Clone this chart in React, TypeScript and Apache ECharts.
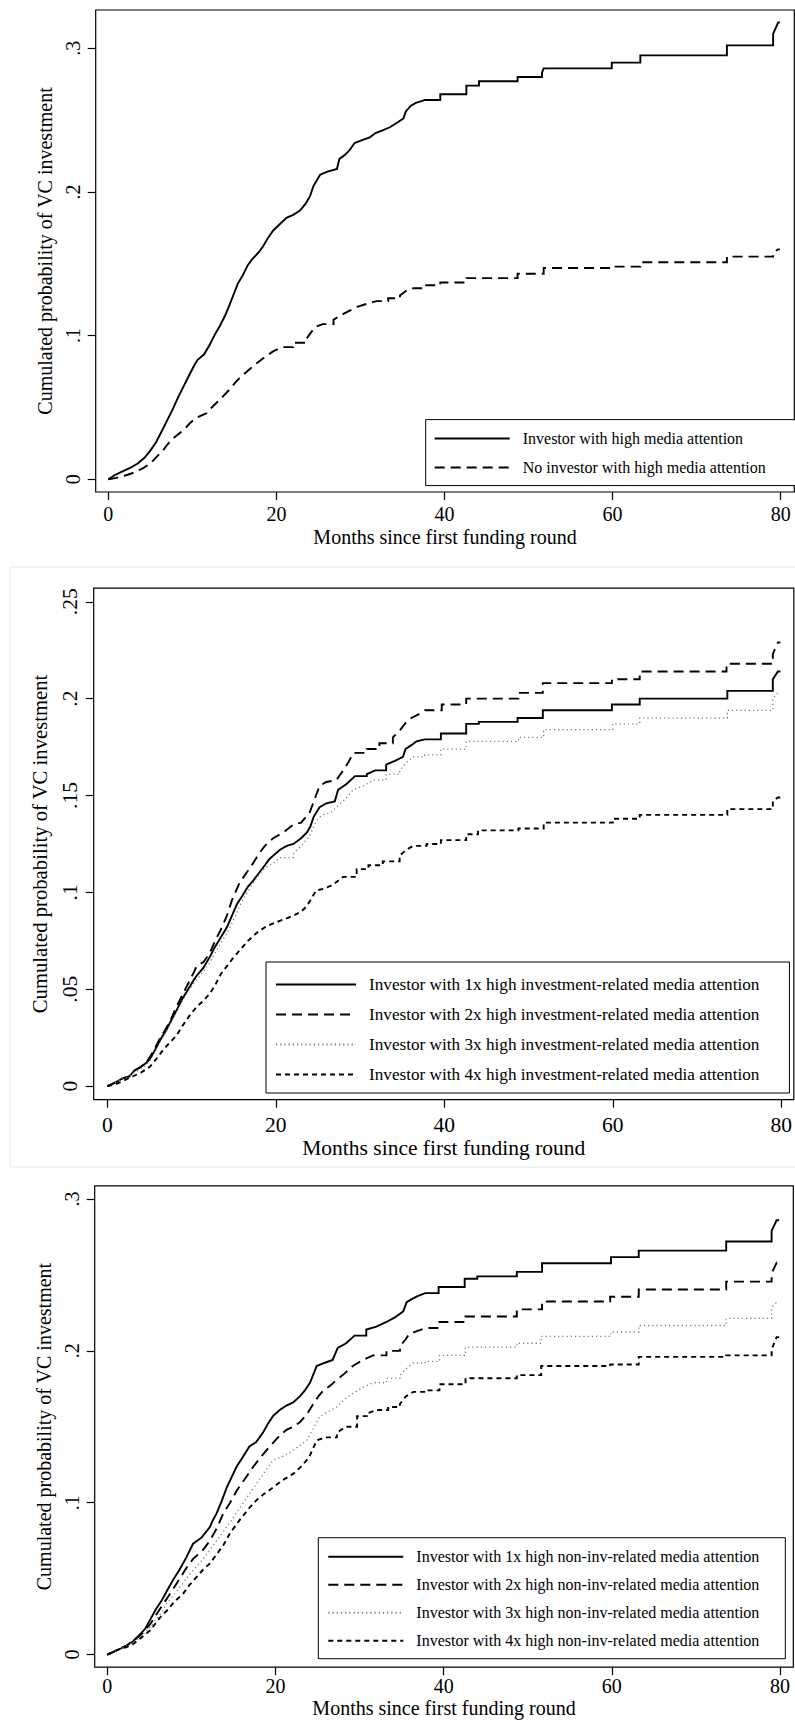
import React, { useEffect, useRef } from "react";
import * as echarts from "echarts";

const FONT = '"Liberation Serif", "Times New Roman", Times, serif';

const xTicks = [0, 20, 40, 60, 80];
const yTicksP1 = [0, 0.1, 0.2, 0.3];
const yTicksP2 = [0, 0.05, 0.1, 0.15, 0.2, 0.25];
const yTicksP3 = [0, 0.1, 0.2, 0.3];

const xTitle = "Months since first funding round";
const yTitle = "Cumulated probability of VC investment";

const p1Names = ["Investor with high media attention", "No investor with high media attention"];
const p2Names = [
  "Investor with 1x high investment-related media attention",
  "Investor with 2x high investment-related media attention",
  "Investor with 3x high investment-related media attention",
  "Investor with 4x high investment-related media attention",
];
const p3Names = [
  "Investor with 1x high non-inv-related media attention",
  "Investor with 2x high non-inv-related media attention",
  "Investor with 3x high non-inv-related media attention",
  "Investor with 4x high non-inv-related media attention",
];

// Panel 1: [month, cumulated probability]
const p1High = [[0,0],[0.8,0.003],[1.5,0.005],[2.6,0.008],[3.5,0.011],[4.3,0.015],[5.0,0.02],[5.7,0.026],[6.4,0.034],[7.0,0.041],[7.6,0.048],[8.3,0.057],[8.9,0.064],[9.5,0.071],[10.2,0.079],[10.6,0.083],[11.4,0.087],[12.1,0.094],[12.7,0.101],[13.3,0.107],[13.9,0.114],[14.4,0.121],[15.0,0.13],[15.4,0.136],[16.0,0.142],[16.6,0.149],[17.1,0.153],[17.9,0.158],[18.4,0.162],[19.0,0.168],[19.6,0.173],[20.3,0.177],[21.2,0.182],[22.0,0.184],[22.8,0.187],[23.5,0.192],[24.0,0.197],[24.4,0.204],[24.8,0.208],[25.2,0.212],[26.0,0.214],[27.2,0.216],[27.5,0.223],[28.2,0.226],[28.7,0.229],[29.3,0.234],[30.2,0.236],[31.1,0.238],[31.8,0.241],[32.7,0.243],[33.5,0.245],[34.3,0.248],[35.1,0.251],[35.4,0.256],[36.0,0.26],[36.6,0.262],[37.7,0.264],[39.5,0.268],[42.6,0.274],[44.1,0.277],[48.7,0.28],[51.6,0.283],[51.8,0.286],[59.9,0.29],[63.3,0.295],[73.6,0.302],[79.1,0.31],[79.7,0.318],[79.9,0.318]];
const p1None = [[0,0],[1,0.001],[2.2,0.003],[3.2,0.005],[4.2,0.008],[5.0,0.011],[5.8,0.016],[6.5,0.02],[7.0,0.024],[7.8,0.029],[8.9,0.034],[9.7,0.039],[10.5,0.043],[11.7,0.046],[12.3,0.05],[13.0,0.054],[13.7,0.058],[14.5,0.063],[15.2,0.068],[15.9,0.072],[16.7,0.076],[17.7,0.081],[18.6,0.085],[19.6,0.089],[20.7,0.092],[22.0,0.095],[23.6,0.098],[24.6,0.106],[25.5,0.108],[26.8,0.111],[27.6,0.114],[28.6,0.117],[29.6,0.12],[30.7,0.122],[31.9,0.124],[33.3,0.126],[34.7,0.128],[35.4,0.131],[36.3,0.133],[37.7,0.135],[39.5,0.137],[42.6,0.14],[48.7,0.143],[51.8,0.147],[59.9,0.148],[63.3,0.151],[73.6,0.155],[79.1,0.158],[79.7,0.16],[79.9,0.16]];

// Panel 2
const p2One = [[0,0],[1,0.002],[1.8,0.004],[2.6,0.005],[3.2,0.008],[4.0,0.01],[4.6,0.012],[5.05,0.014],[5.7,0.019],[6.3,0.024],[7.0,0.029],[7.6,0.034],[8.2,0.039],[8.9,0.045],[9.6,0.05],[10.3,0.055],[10.6,0.057],[11.4,0.061],[12.2,0.067],[12.8,0.072],[13.5,0.077],[14.2,0.082],[14.8,0.088],[15.4,0.094],[16.0,0.098],[16.7,0.103],[17.3,0.106],[18.0,0.11],[18.7,0.114],[19.2,0.117],[19.7,0.119],[20.5,0.122],[21.3,0.124],[22.1,0.125],[23.0,0.128],[23.7,0.131],[24.1,0.134],[24.5,0.139],[25.2,0.144],[26.0,0.146],[27.0,0.147],[27.4,0.153],[28.4,0.156],[29.4,0.16],[30.8,0.161],[31.8,0.163],[33.1,0.166],[34.2,0.168],[35.1,0.17],[35.4,0.174],[36.1,0.176],[36.7,0.178],[37.7,0.179],[39.6,0.182],[42.6,0.187],[44.1,0.188],[48.7,0.19],[51.7,0.194],[59.9,0.197],[63.2,0.2],[73.6,0.204],[79.0,0.21],[79.6,0.214],[79.9,0.214]];
const p2Two = [[0,0],[1,0.002],[1.8,0.004],[2.6,0.005],[3.2,0.008],[4.0,0.01],[4.6,0.012],[5.05,0.015],[5.7,0.02],[6.3,0.025],[7.0,0.03],[7.6,0.035],[8.2,0.041],[8.9,0.047],[9.6,0.053],[10.3,0.059],[10.6,0.062],[11.4,0.064],[12.2,0.069],[12.8,0.075],[13.5,0.081],[14.2,0.088],[14.8,0.096],[15.7,0.105],[16.5,0.11],[17.3,0.115],[18.0,0.12],[18.7,0.124],[19.7,0.128],[20.9,0.131],[22.1,0.135],[23.0,0.136],[24.0,0.141],[24.6,0.148],[25.2,0.155],[26.0,0.157],[27.2,0.158],[28.0,0.163],[28.6,0.167],[29.2,0.172],[30.8,0.174],[32.3,0.177],[33.9,0.18],[34.8,0.184],[35.5,0.188],[36.1,0.19],[37.0,0.192],[37.7,0.194],[39.7,0.197],[42.6,0.2],[48.8,0.203],[51.7,0.208],[59.9,0.21],[63.2,0.214],[73.5,0.218],[79.0,0.223],[79.6,0.229],[79.9,0.229]];
const p2Three = [[0,0],[1,0.002],[1.8,0.004],[2.6,0.005],[3.2,0.007],[4.0,0.009],[4.6,0.011],[5.05,0.013],[5.7,0.018],[6.3,0.023],[7.0,0.028],[7.6,0.033],[8.2,0.038],[8.9,0.044],[9.6,0.049],[10.6,0.055],[11.4,0.059],[12.2,0.064],[12.8,0.069],[13.5,0.074],[14.2,0.079],[14.9,0.085],[15.7,0.093],[16.5,0.099],[17.3,0.105],[18.0,0.109],[18.8,0.113],[19.7,0.115],[20.5,0.118],[22.1,0.12],[23.0,0.124],[24.0,0.129],[24.8,0.137],[25.5,0.14],[26.5,0.141],[27.2,0.144],[28.2,0.148],[29.2,0.153],[30.4,0.155],[31.6,0.158],[33.1,0.161],[34.7,0.163],[35.5,0.167],[36.3,0.17],[37.7,0.171],[39.6,0.174],[42.6,0.178],[48.8,0.18],[51.8,0.184],[60.0,0.187],[63.2,0.19],[73.6,0.194],[79.0,0.2],[79.6,0.203],[79.9,0.203]];
const p2Four = [[0,0],[1,0.001],[2,0.003],[3,0.005],[4,0.007],[5.05,0.01],[5.8,0.014],[6.5,0.018],[7.3,0.022],[8.2,0.026],[8.9,0.031],[9.7,0.036],[10.6,0.041],[11.4,0.044],[12.2,0.048],[12.9,0.053],[13.5,0.058],[14.2,0.062],[14.9,0.066],[15.7,0.07],[16.7,0.075],[17.7,0.079],[18.7,0.082],[19.7,0.084],[20.9,0.086],[22.1,0.088],[23.0,0.09],[23.7,0.093],[24.8,0.101],[25.8,0.102],[26.8,0.104],[28.0,0.108],[29.6,0.112],[31.0,0.114],[32.7,0.116],[34.7,0.119],[35.5,0.122],[36.3,0.124],[37.9,0.125],[39.6,0.127],[42.6,0.13],[44.0,0.132],[48.8,0.133],[51.8,0.136],[60.0,0.138],[63.2,0.14],[73.6,0.143],[79.0,0.147],[79.6,0.149],[79.9,0.149]];

// Panel 3
const p3One = [[0,0],[0.8,0.002],[1.6,0.004],[2.3,0.006],[3.1,0.009],[4.0,0.014],[4.5,0.017],[5.1,0.023],[5.8,0.03],[6.5,0.036],[7.1,0.042],[7.8,0.049],[8.6,0.056],[9.4,0.064],[10.2,0.073],[11.2,0.077],[12.2,0.084],[12.6,0.089],[13.0,0.093],[13.6,0.101],[14.2,0.11],[14.8,0.117],[15.4,0.124],[16.1,0.13],[16.9,0.137],[17.7,0.14],[18.5,0.146],[19.1,0.152],[19.7,0.157],[20.5,0.161],[21.3,0.164],[22.1,0.166],[22.9,0.17],[23.5,0.174],[24.1,0.179],[24.9,0.19],[25.8,0.192],[26.8,0.194],[27.4,0.202],[28.4,0.205],[29.4,0.21],[30.8,0.214],[32.0,0.216],[33.2,0.219],[34.2,0.222],[35.2,0.226],[35.6,0.232],[36.2,0.234],[36.9,0.236],[37.8,0.238],[39.4,0.242],[42.5,0.2475],[44.0,0.249],[48.7,0.252],[51.7,0.2577],[59.9,0.2617],[63.2,0.266],[73.6,0.272],[79.0,0.279],[79.6,0.286],[79.9,0.286]];
const p3Two = [[0,0],[0.8,0.002],[1.6,0.004],[2.3,0.006],[3.1,0.009],[4.0,0.013],[5.1,0.02],[5.8,0.026],[6.5,0.032],[7.1,0.037],[7.8,0.043],[8.6,0.05],[9.4,0.057],[10.2,0.063],[10.6,0.065],[11.4,0.069],[12.2,0.075],[13.0,0.083],[13.8,0.093],[14.6,0.1],[15.4,0.108],[16.4,0.116],[17.4,0.124],[18.4,0.131],[19.3,0.137],[20.3,0.143],[21.3,0.148],[22.1,0.15],[22.9,0.153],[23.7,0.158],[24.5,0.165],[25.1,0.17],[25.7,0.174],[26.5,0.177],[27.3,0.181],[28.2,0.185],[29.2,0.19],[30.4,0.194],[31.6,0.197],[33.2,0.2],[34.8,0.203],[35.4,0.207],[35.9,0.211],[36.8,0.213],[37.9,0.215],[39.5,0.219],[42.6,0.2226],[48.7,0.2273],[51.7,0.2325],[59.8,0.2356],[63.2,0.2404],[73.6,0.2456],[79.0,0.251],[79.6,0.258],[79.9,0.258]];
const p3Three = [[0,0],[0.8,0.002],[1.6,0.004],[2.3,0.006],[3.1,0.008],[4.0,0.012],[5.1,0.018],[5.8,0.023],[6.5,0.028],[7.1,0.034],[8.0,0.04],[9.0,0.047],[9.8,0.053],[10.6,0.058],[11.4,0.063],[12.2,0.069],[13.0,0.075],[13.8,0.081],[14.6,0.087],[15.8,0.097],[16.8,0.105],[17.8,0.113],[18.7,0.12],[19.7,0.128],[20.7,0.13],[21.7,0.133],[22.7,0.137],[23.7,0.141],[24.5,0.149],[25.3,0.157],[26.3,0.16],[27.3,0.163],[28.2,0.168],[29.2,0.172],[30.4,0.176],[31.6,0.179],[33.2,0.182],[34.8,0.184],[35.5,0.188],[36.4,0.192],[37.8,0.193],[39.5,0.197],[42.6,0.2025],[48.7,0.205],[51.6,0.2095],[59.9,0.2124],[63.2,0.2167],[73.6,0.2214],[79.0,0.2285],[79.6,0.232],[79.9,0.232]];
const p3Four = [[0,0],[0.8,0.002],[1.6,0.004],[2.3,0.005],[3.1,0.007],[4.0,0.011],[5.1,0.016],[5.8,0.021],[6.5,0.026],[7.1,0.029],[8.0,0.035],[9.0,0.04],[9.8,0.046],[10.6,0.051],[11.4,0.056],[12.2,0.06],[13.0,0.066],[13.8,0.072],[14.6,0.08],[15.8,0.089],[16.8,0.096],[17.8,0.102],[18.7,0.106],[19.7,0.11],[20.9,0.115],[22.1,0.119],[23.1,0.124],[24.0,0.13],[24.9,0.141],[25.9,0.143],[27.3,0.146],[28.3,0.15],[29.7,0.157],[31.0,0.159],[32.0,0.161],[33.4,0.163],[34.8,0.165],[35.5,0.17],[36.4,0.173],[37.8,0.174],[39.5,0.178],[42.6,0.182],[48.7,0.184],[51.6,0.19],[59.8,0.191],[63.2,0.196],[73.6,0.197],[79.0,0.201],[79.6,0.209],[79.9,0.209]];

const SOLID = { color: "#000", width: 1.9, type: "solid" as any };
const LONGDASH = { color: "#000", width: 1.9, type: [10, 6] as any };
const DOTTED = { color: "#7a7a7a", width: 1.3, type: [1.2, 3] as any };
const SHORTDASH = { color: "#000", width: 1.9, type: [5, 4] as any };

const yFmt = (v: number) => (v === 0 ? "0" : String(v).replace(/^0/, ""));

// Kaplan-Meier style: dense early events drawn as a path through the read points,
// sparse later events drawn as horizontal-then-vertical steps.
function kmPath(pts: number[][]) {
  const out: number[][] = [pts[0]];
  for (let i = 1; i < pts.length; i++) {
    const [t, y] = pts[i];
    const [tp, yp] = pts[i - 1];
    if (t - tp > 1.3) out.push([t, yp]);
    out.push([t, y]);
  }
  return out;
}

function mkSeries(name: string, data: number[][], idx: number, ls: any) {
  return {
    name,
    type: "line",
    xAxisIndex: idx,
    yAxisIndex: idx,
    data: kmPath(data),
    symbol: "none",
    showSymbol: false,
    color: ls.color,
    lineStyle: { ...ls, cap: "butt", join: "miter" },
    silent: true,
  };
}

function mkX(idx: number, min: number, max: number, fs: number, margin: number, nameGap: number, nameFs: number) {
  return {
    type: "value",
    gridIndex: idx,
    min,
    max,
    axisLine: { show: false, onZero: false },
    axisTick: { show: true, inside: false, length: 8, customValues: xTicks, lineStyle: { color: "#000", width: 1.2 } },
    axisLabel: { customValues: xTicks, margin, fontSize: fs, fontFamily: FONT, color: "#000" },
    splitLine: { show: false },
    name: xTitle,
    nameLocation: "middle",
    nameGap,
    nameTextStyle: { fontFamily: FONT, fontSize: nameFs, color: "#000" },
  };
}

function mkY(idx: number, min: number, max: number, ticks: number[], fs: number, margin: number, nameGap: number, nameFs: number) {
  return {
    type: "value",
    gridIndex: idx,
    min,
    max,
    axisLine: { show: false, onZero: false },
    axisTick: { show: true, inside: false, length: 8, customValues: ticks, lineStyle: { color: "#000", width: 1.2 } },
    axisLabel: { customValues: ticks, formatter: yFmt, rotate: 90, margin, fontSize: fs, fontFamily: FONT, color: "#000" },
    splitLine: { show: false },
    name: yTitle,
    nameLocation: "middle",
    nameGap,
    nameRotate: 90,
    nameTextStyle: { fontFamily: FONT, fontSize: nameFs, color: "#000" },
  };
}

function mkLegend(data: string[], left: number, top: number, itemWidth: number, itemGap: number, fs: number, padding: number[], textPad: number) {
  return {
    data,
    left,
    top,
    orient: "vertical",
    itemWidth,
    itemHeight: 12,
    itemGap,
    padding,
    borderColor: "#000",
    borderWidth: 1,
    backgroundColor: "#fff",
    selectedMode: false,
    itemStyle: { opacity: 0, borderWidth: 0 },
    textStyle: { fontFamily: FONT, fontSize: fs, color: "#000", padding: [0, 0, 0, textPad] },
  };
}

export default function App() {
  const ref = useRef<HTMLDivElement>(null);
  useEffect(() => {
    document.body.style.margin = "0";
    const chart = echarts.init(ref.current as HTMLDivElement, null, { renderer: "svg" });
    const option: any = {
      animation: false,
      backgroundColor: "#fff",
      grid: [
        { left: 95.7, top: 10, width: 698.6, height: 482, show: true, borderColor: "#000", borderWidth: 1.2 },
        { left: 93.7, top: 588.2, width: 700.6, height: 511.5, show: true, borderColor: "#000", borderWidth: 1.2 },
        { left: 94.7, top: 1185.9, width: 698.6, height: 481.3, show: true, borderColor: "#000", borderWidth: 1.2 },
      ],
      xAxis: [
        mkX(0, -1.5, 81.62, 20, 12, 35, 20),
        mkX(1, -1.613, 81.495, 21.5, 14, 37, 21.5),
        mkX(2, -1.498, 81.58, 20, 9, 31, 20),
      ],
      yAxis: [
        mkY(0, -0.00884, 0.3266, yTicksP1, 20, 13, 36, 20),
        mkY(1, -0.00697, 0.257, yTicksP2, 21.5, 13, 38, 20.7),
        mkY(2, -0.0083, 0.3086, yTicksP3, 20, 13, 35.4, 20),
      ],
      legend: [
        mkLegend(p1Names, 425.7, 419.6, 75, 13, 16, [11, 44, 10, 8], 8),
        mkLegend(p2Names, 266, 962, 80, 13, 17.2, [14, 30, 10, 9], 8),
        mkLegend(p3Names, 318.3, 1537.7, 75, 12, 16, [11, 26, 10, 9], 8),
      ],
      graphic: [
        {
          type: "rect",
          silent: true,
          z: -10,
          shape: { x: 10, y: 567, width: 800, height: 600 },
          style: { fill: "none", stroke: "#e3e9ec", lineWidth: 1 },
        },
      ],
      series: [
        mkSeries(p1Names[0], p1High, 0, SOLID),
        mkSeries(p1Names[1], p1None, 0, LONGDASH),
        mkSeries(p2Names[0], p2One, 1, SOLID),
        mkSeries(p2Names[1], p2Two, 1, LONGDASH),
        mkSeries(p2Names[2], p2Three, 1, DOTTED),
        mkSeries(p2Names[3], p2Four, 1, SHORTDASH),
        mkSeries(p3Names[0], p3One, 2, SOLID),
        mkSeries(p3Names[1], p3Two, 2, LONGDASH),
        mkSeries(p3Names[2], p3Three, 2, DOTTED),
        mkSeries(p3Names[3], p3Four, 2, SHORTDASH),
      ],
    };
    chart.setOption(option);
    return () => chart.dispose();
  }, []);
  return <div ref={ref} style={{ width: 795, height: 1724 }} />;
}
